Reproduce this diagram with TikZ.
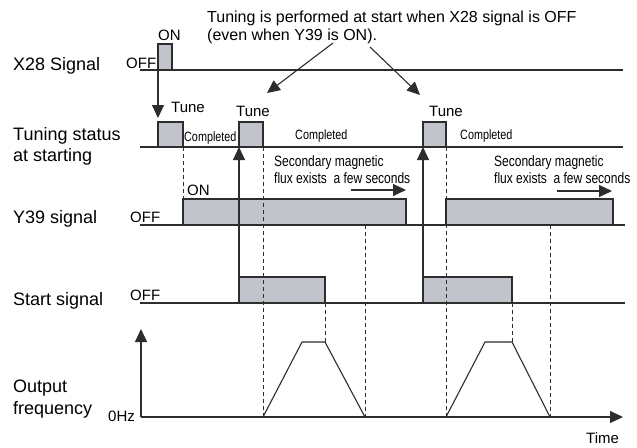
\documentclass[tikz,border=0pt]{standalone}
\usepackage{fontspec}
\setmainfont{Liberation Sans}
\newfontfamily\narrowfont[FakeStretch=0.8]{Liberation Sans}
\usetikzlibrary{arrows.meta}
\definecolor{PulseFill}{RGB}{194, 196, 203}
\definecolor{WaveColor}{RGB}{45, 45, 45}

\begin{document}
\begin{tikzpicture}[
    x=1pt, y=-1pt,
    lbl/.style={font=\fontsize{18}{21.5}\selectfont, inner sep=0pt, align=left},
    tag/.style={font=\fontsize{15}{17}\selectfont, inner sep=0pt, anchor=base west},
    narrow/.style={font=\narrowfont\fontsize{13.5}{16}\selectfont, inner sep=0pt, anchor=base west},
    flux/.style={font=\narrowfont\fontsize{15}{17}\selectfont, inner sep=0pt,
        anchor=north west, align=left},
    wave/.style={draw=WaveColor, line width=1.1pt},
    pulse/.style={wave, fill=PulseFill, anchor=south west, inner sep=0pt,
        outer sep=0pt, minimum height=26pt},
    guide/.style={draw=WaveColor, line width=0.8pt, dash pattern=on 4pt off 3pt},
    arr/.style={-{Triangle[length=13pt, width=12pt]}, line width=1.1pt, draw=WaveColor},
]
\useasboundingbox (0,0) rectangle (637,447);

%% Signal names
\node[lbl, anchor=base west]  (x28lbl)   at (13,70)  {X28 Signal};
\node[lbl, anchor=north west] (tunelbl)  at (13,127) {Tuning status\\at starting};
\node[lbl, anchor=base west]  (y39lbl)   at (13,223) {Y39 signal};
\node[lbl, anchor=base west]  (startlbl) at (13,305) {Start signal};
\node[lbl, anchor=north west] (outlbl)   at (13,380) {Output\\frequency};

%% X28 signal
\draw[wave] (140,70) -- (623,70);
\node[pulse, minimum width=14pt] (x28p) at (158,70) {};
\node[tag] (x28on)  at (158,40) {ON};
\node[tag] (x28off) at (126,68) {OFF};

%% Tuning status
\draw[wave] (140,147) -- (623,147);
\node[pulse, minimum width=25pt, minimum height=25pt] (tuneA) at (158,147) {};
\node[pulse, minimum width=24pt, minimum height=25pt] (tuneB) at (239,147) {};
\node[pulse, minimum width=23pt, minimum height=25pt] (tuneC) at (423,147) {};
\node[tag] (tuneAtxt) at (171,112) {Tune};
\node[tag] (tuneBtxt) at (236,116) {Tune};
\node[tag] (tuneCtxt) at (429,116) {Tune};
\node[narrow] (doneA) at (184,141) {Completed};
\node[narrow] (doneB) at (295,139) {Completed};
\node[narrow] (doneC) at (460,139) {Completed};

\draw[arr, shorten >=4pt] (x28p.south west) -- (tuneA.north west);

%% Note on top
\node[font=\fontsize{16}{18}\selectfont, inner sep=0pt, anchor=north west, align=left]
    (note) at (207,11)
    {Tuning is performed at start when X28 signal is OFF\\(even when Y39 is ON).};
\coordinate (noteL) at (333,43);
\coordinate (noteR) at (370,47);
\coordinate (hitB)  at (267,93);
\coordinate (hitC)  at (420,95);
\draw[arr] (noteL) -- (hitB);
\draw[arr] (noteR) -- (hitC);

%% Y39 signal
\draw[wave] (140,225) -- (625,225);
\node[pulse, minimum width=223pt] (y39A) at (183,225) {};
\node[pulse, minimum width=167pt] (y39B) at (446,225) {};
\node[tag] (y39on)  at (187,195) {ON};
\node[tag] (y39off) at (130,222) {OFF};

\node[flux] (fluxA) at (274,155) {Secondary magnetic\\flux exists\ \ a few seconds};
\node[flux] (fluxB) at (494,155) {Secondary magnetic\\flux exists\ \ a few seconds};
\coordinate (fluxA0) at (351,190);
\coordinate (fluxA1) at (406,190);
\coordinate (fluxB0) at (557,191);
\coordinate (fluxB1) at (612,191);
\draw[arr] (fluxA0) -- (fluxA1);
\draw[arr] (fluxB0) -- (fluxB1);

%% Start signal
\draw[wave] (140,303) -- (625,303);
\node[pulse, minimum width=86pt] (startA) at (239,303) {};
\node[pulse, minimum width=89pt] (startB) at (423,303) {};
\node[tag] (startoff) at (130,300) {OFF};

\draw[arr] (startA.south west) -- (tuneB.south west);
\draw[arr] (startB.south west) -- (tuneC.south west);

%% Output frequency
\coordinate (origin) at (141,417);
\coordinate (ftop)   at (141,329);
\coordinate (tend)   at (623,417);
\draw[arr] (origin) -- (ftop);
\draw[arr] (origin) -- (tend);
\node[tag] (zerohz)  at (108,421) {0Hz};
\node[tag] (timelbl) at (586,443) {Time};

\coordinate (rampA0) at (263,417);
\coordinate (rampA1) at (302,342);
\coordinate (rampA2) at (325,342);
\coordinate (rampA3) at (365,417);
\coordinate (rampB0) at (446,417);
\coordinate (rampB1) at (485,342);
\coordinate (rampB2) at (512,342);
\coordinate (rampB3) at (550,417);
\draw[wave] (rampA0) -- (rampA1) -- (rampA2) -- (rampA3);
\draw[wave] (rampB0) -- (rampB1) -- (rampB2) -- (rampB3);

%% Dashed guides
\draw[guide] (tuneA.south east)  -- (y39A.north west);
\draw[guide] (tuneB.south east)  -- (rampA0);
\draw[guide] (startA.south east) -- (rampA2);
\draw[guide] (365,225) -- (rampA3);
\draw[guide] (tuneC.south east)  -- (rampB0);
\draw[guide] (startB.south east) -- (rampB2);
\draw[guide] (550,225) -- (rampB3);

\end{tikzpicture}
\end{document}
